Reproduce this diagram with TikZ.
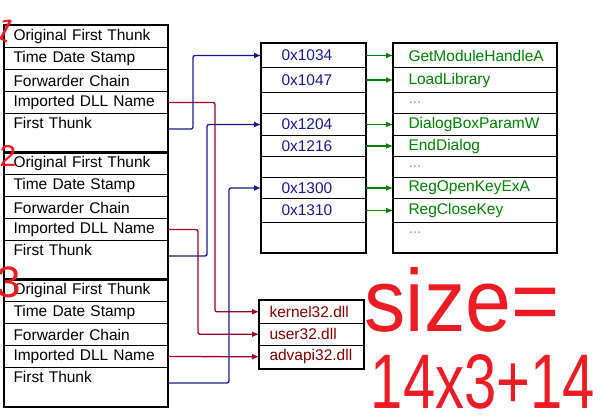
\documentclass[tikz,border=0pt]{standalone}
\usepackage{fontspec}
\setmainfont{Liberation Sans}
\usepackage{xcolor}
\usepackage{graphicx}
\usetikzlibrary{arrows.meta}
\definecolor{ptrblue}{RGB}{24,24,140}
\definecolor{fngreen}{RGB}{0,128,0}
\definecolor{dllred}{RGB}{128,0,0}
\definecolor{linered}{RGB}{160,0,30}
\definecolor{handred}{RGB}{236,28,36}
\tikzset{
  cell/.style={draw, line width=1pt, anchor=north west, inner ysep=0pt, align=left, font=\fontsize{15.5}{18}\selectfont},
  hdr/.style={cell, inner xsep=9pt, text width=145pt, minimum height=22pt},
  ftrow/.style={hdr, minimum height=39pt, text height=13pt, text depth=22pt},
  ptr/.style={cell, text=ptrblue, inner xsep=20pt, text width=64pt},
  fname/.style={cell, text=fngreen, inner xsep=15pt, text width=133pt},
  dllcell/.style={cell, text=dllred, inner xsep=10pt, text width=84pt, minimum height=22.5pt},
  outer/.style={line width=2pt},
  ptrline/.style={ptrblue, line width=1.3pt, rounded corners=2pt, -{Latex[length=7pt,width=6pt]}},
  dllline/.style={linered, line width=1.3pt, rounded corners=2pt, -{Latex[length=7pt,width=6pt]}},
  fnline/.style={fngreen, line width=1.3pt, -{Latex[length=7pt,width=6pt]}},
  hand/.style={text=handred, inner sep=0pt}
}
\begin{document}
\begin{tikzpicture}[x=1pt,y=-1pt]
\useasboundingbox (0,0) rectangle (606,416);
% import descriptors
\node[hdr] (oft1) at (4,25) {Original First Thunk};
\node[hdr] (tds1) at (4,47) {Time Date Stamp};
\node[hdr] (fwc1) at (4,69) {Forwarder Chain};
\node[hdr] (dll1) at (4,91) {Imported DLL Name};
\node[ftrow] (ft1) at (4,113) {First Thunk};
\draw[outer] (oft1.north west) rectangle (ft1.south east);
\node[hdr] (oft2) at (4,152) {Original First Thunk};
\node[hdr] (tds2) at (4,174) {Time Date Stamp};
\node[hdr] (fwc2) at (4,196) {Forwarder Chain};
\node[hdr] (dll2) at (4,218) {Imported DLL Name};
\node[ftrow] (ft2) at (4,240) {First Thunk};
\draw[outer] (oft2.north west) rectangle (ft2.south east);
\node[hdr] (oft3) at (4,279) {Original First Thunk};
\node[hdr] (tds3) at (4,301) {Time Date Stamp};
\node[hdr] (fwc3) at (4,323) {Forwarder Chain};
\node[hdr] (dll3) at (4,345) {Imported DLL Name};
\node[ftrow] (ft3) at (4,367) {First Thunk};
\draw[outer] (oft3.north west) rectangle (ft3.south east);
% thunk array
\node[ptr, minimum height=24pt] (iat1) at (261,43) {0x1034};
\node[ptr, minimum height=25pt] (iat2) at (261,67) {0x1047};
\node[ptr, minimum height=21pt] (iat3) at (261,92) {};
\node[ptr, minimum height=22pt] (iat4) at (261,113) {0x1204};
\node[ptr, minimum height=21pt] (iat5) at (261,135) {0x1216};
\node[ptr, minimum height=21pt] (iat6) at (261,156) {};
\node[ptr, minimum height=21pt] (iat7) at (261,177) {0x1300};
\node[ptr, minimum height=24pt] (iat8) at (261,198) {0x1310};
\node[ptr, minimum height=30pt] (iat9) at (261,222) {};
\draw[outer] (iat1.north west) rectangle (iat9.south east);
% function names
\node[fname, minimum height=24pt] (fn1) at (393,43) {GetModuleHandleA};
\node[fname, minimum height=25pt] (fn2) at (393,67) {LoadLibrary};
\node[fname, minimum height=21pt, text=fngreen!55] (fn3) at (393,92) {...};
\node[fname, minimum height=22pt] (fn4) at (393,113) {DialogBoxParamW};
\node[fname, minimum height=21pt] (fn5) at (393,135) {EndDialog};
\node[fname, minimum height=21pt, text=fngreen!55] (fn6) at (393,156) {...};
\node[fname, minimum height=21pt] (fn7) at (393,177) {RegOpenKeyExA};
\node[fname, minimum height=24pt] (fn8) at (393,198) {RegCloseKey};
\node[fname, minimum height=30pt, text=fngreen!55, text height=9pt, text depth=17pt] (fn9) at (393,222) {...};
\draw[outer] (fn1.north west) rectangle (fn9.south east);
% dll names
\node[dllcell] (k32) at (259,300) {kernel32.dll};
\node[dllcell] (u32) at (259,322.5) {user32.dll};
\node[dllcell] (a32) at (259,345) {advapi32.dll};
\draw[outer] (k32.north west) rectangle (a32.south east);
% links
\draw[dllline] (dll1.east) -- ++(47,0) |- (k32.west);
\draw[dllline] (dll2.east) -- ++(30,0) |- (u32.west);
\draw[dllline] (dll3.east) -- (a32.west);
\draw[ptrline] ([yshift=4pt]ft1.east) -- ++(25,0) |- (iat1.west);
\draw[ptrline] ([yshift=4pt]ft2.east) -- ++(39,0) |- (iat4.west);
\draw[ptrline] ([yshift=4pt]ft3.east) -- ++(61,0) |- (iat7.west);
\draw[fnline] (iat1.east) -- (fn1.west);
\draw[fnline] (iat2.east) -- (fn2.west);
\draw[fnline] (iat4.east) -- (fn4.west);
\draw[fnline] (iat5.east) -- (fn5.west);
\draw[fnline] (iat7.east) -- (fn7.west);
\draw[fnline] (iat8.east) -- (fn8.west);
% notes
\node[hand, font=\fontsize{32}{32}\selectfont, rotate=-28] (n1) at (6,30) {1};
\node[hand, font=\fontsize{30}{30}\selectfont] (n2) at (8,156) {2};
\node[hand, font=\fontsize{44}{44}\selectfont] (n3) at (9,282) {3};
\node[hand] (sz) at (462,300) {\resizebox{195pt}{64pt}{size=}};
\node[hand] (calc) at (483,382) {\resizebox{224pt}{54pt}{14x3+14}};
\end{tikzpicture}
\end{document}
